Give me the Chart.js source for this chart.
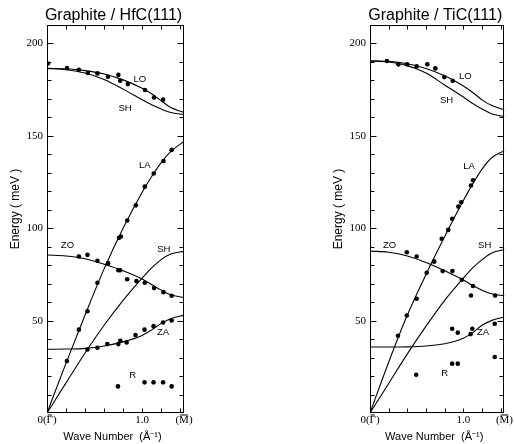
<!DOCTYPE html>
<html>
<head>
<meta charset="utf-8">
<script src="https://cdn.jsdelivr.net/npm/chart.js@4"></script>
<style>
html, body { margin: 0; padding: 0; background: #fff; }
#wrap { position: relative; width: 514px; height: 444px; }
.panel { position: absolute; top: 0; width: 257px; height: 444px; }
</style>
</head>
<body>
<div id="wrap">
  <div class="panel" style="left:0"><canvas id="hfcChart"></canvas></div>
  <div class="panel" style="left:257px"><canvas id="ticChart"></canvas></div>
</div>
<script>
// wave number grid for the calculated curves (1/A), M point at the end
const curveK = [0, 0.2, 0.4, 0.6, 0.8, 1.0, 1.1, 1.2, 1.3, 1.44];
const xTickValues = [0, 1.0, 1.44];
const xTickLabels = ['0(\u0393)', '1.0', '(M)'];
const yTickValues = [50, 100, 150, 200];

// Graphite / HfC(111) - calculated curves (meV)
const hfcLO   = [186.5, 186.3, 185.3, 183.5, 180.3, 175.8, 172.8, 169, 165.3, 162.7];
const hfcSH1  = [186.5, 185.8, 184, 180.5, 175.3, 169.5, 166.8, 164.5, 162.6, 161.5];
const hfcLA   = [0, 27, 53, 78, 100, 119.5, 128, 135.5, 141.5, 147];
const hfcSH2  = [0, 16.3, 32.5, 47.5, 61, 73, 78.5, 83, 86, 87.5];
const hfcZO   = [85.5, 85, 83.5, 80.5, 77, 72.5, 69.5, 66.5, 64, 62.5];
const hfcZA   = [34.5, 34.6, 35, 36.3, 38.5, 42, 45, 48.5, 51, 53];

// Graphite / HfC(111) - measured points
const hfcLOk = [0.01, 0.21, 0.335, 0.43, 0.53, 0.64, 0.75, 0.77, 0.85, 1.03, 1.125, 1.22];
const hfcLOe = [189.2, 186.7, 185.8, 184, 183.8, 182, 183, 179.8, 178, 174.8, 170.8, 169.6];
const hfcLAk = [0.209, 0.335, 0.425, 0.53, 0.641, 0.757, 0.777, 0.843, 0.934, 1.028, 1.122, 1.224, 1.31];
const hfcLAe = [28.1, 45.1, 55.1, 70.5, 81.1, 94.8, 95.5, 104.2, 112.4, 122.5, 129.6, 136.4, 142.4];
const hfcZOk = [0.335, 0.425, 0.53, 0.641, 0.75, 0.77, 0.843, 0.94, 1.028, 1.126, 1.224, 1.31];
const hfcZOe = [84.7, 85.6, 82.4, 80.8, 77.3, 77.3, 72.4, 71.4, 70.5, 67.6, 65.4, 63.5];
const hfcZAk = [0.425, 0.53, 0.634, 0.75, 0.77, 0.837, 0.93, 1.025, 1.12, 1.22, 1.31];
const hfcZAe = [34.4, 35.3, 37.3, 37.3, 39.1, 38.2, 42.2, 45.1, 47.0, 49.0, 50.1];
const hfcRk  = [0.746, 1.025, 1.12, 1.22, 1.31];
const hfcRe  = [14.4, 16.6, 16.6, 16.6, 14.4];

// Graphite / TiC(111) - calculated curves (meV)
const ticLO   = [190.6, 190.3, 189, 186.5, 182.5, 177, 173.5, 169.5, 166.5, 164];
const ticSH1  = [190.6, 190, 188, 184, 177.5, 171, 167.5, 164.5, 162, 160.5];
const ticLA   = [0, 27.5, 53, 75, 95.5, 115, 124, 132, 138, 142];
const ticSH2  = [0, 16, 32, 47, 61, 73, 78.5, 83, 86.5, 88.5];
const ticZO   = [87.6, 87, 85, 81.5, 77, 72, 69, 66.5, 64.5, 63.5];
const ticZA   = [35.7, 35.7, 35.8, 36.3, 37.5, 40.5, 43.5, 47.5, 50, 52];

// Graphite / TiC(111) - measured points
const ticLOk = [0.181, 0.304, 0.398, 0.5, 0.614, 0.70, 0.796, 0.886];
const ticLOe = [190.5, 188.7, 188.7, 187.6, 188.7, 186.5, 181.8, 179.8];
const ticLAk = [0.3, 0.394, 0.5, 0.607, 0.687, 0.768, 0.838, 0.88, 0.946, 0.977, 1.082, 1.103];
const ticLAe = [41.8, 52.8, 61.8, 75.9, 82, 94.3, 99.1, 105.1, 111.7, 114.1, 123.1, 126];
const ticZOk = [0.394, 0.5, 0.687, 0.778, 0.883, 0.984, 1.103, 1.082, 1.34];
const ticZOe = [87, 84.7, 82, 76.8, 76.8, 72.1, 68.7, 63.6, 63.6];
const ticZAk = [0.88, 0.94, 1.078, 1.096, 1.336];
const ticZAe = [45.6, 43.5, 42.7, 45.6, 48.3];
const ticRk  = [0.495, 0.88, 0.94, 1.336];
const ticRe  = [20.7, 26.7, 26.7, 30.3];

// branch labels: text, wave number, energy
const hfcLabels = [['LO', 0.976, 180.8], ['SH', 0.82, 165], ['LA', 1.028, 133.9], ['ZO', 0.215, 90.6],
                   ['SH', 1.227, 88.5], ['ZA', 1.22, 43.5], ['R', 0.9, 20.4]];
const ticLabels = [['LO', 1.02, 182.2], ['SH', 0.82, 169.4], ['LA', 1.06, 133.4], ['ZO', 0.21, 90.6],
                   ['SH', 1.228, 90.6], ['ZA', 1.21, 43.5], ['R', 0.8, 21.6]];

const INK = '#000';
const SERIF = '"Liberation Serif", "Times New Roman", serif';
const SANS = '"Liberation Sans", Arial, sans-serif';

function curve(vals) {
    return {
        type: 'line',
        data: curveK.map((k, i) => ({ x: k, y: vals[i] })),
        borderColor: INK,
        borderWidth: 1.1,
        pointRadius: 0,
        cubicInterpolationMode: 'monotone',
        fill: false
    };
}

function dots(ks, es) {
    return {
        type: 'scatter',
        data: ks.map((k, i) => ({ x: k, y: es[i] })),
        backgroundColor: INK,
        borderWidth: 0,
        pointRadius: 2.3
    };
}

// frame, inward ticks, titles, overbars and branch labels
const decorPlugin = {
    id: 'decor',
    afterDraw(chart, args, opts) {
        const { ctx, chartArea: a, scales: { x, y } } = chart;
        const L = Math.round(a.left) + 0.5, R = Math.round(a.right) - 0.5;
        const T = Math.round(a.top) + 0.5, B = Math.round(a.bottom) - 0.5;
        ctx.save();
        ctx.strokeStyle = INK;
        ctx.lineWidth = 1;
        ctx.strokeRect(L, T, R - L, B - T);
        ctx.beginPath();
        for (let k = 0.2; k < 1.43; k += 0.2) {
            const px = Math.round(x.getPixelForValue(k)) + 0.5;
            ctx.moveTo(px, B); ctx.lineTo(px, B - 4);
            ctx.moveTo(px, T); ctx.lineTo(px, T + 4);
        }
        for (let e = 10; e <= 200; e += 10) {
            const py = Math.round(y.getPixelForValue(e)) + 0.5;
            const len = e % 50 === 0 ? 6 : 4;
            ctx.moveTo(L, py); ctx.lineTo(L + len, py);
            ctx.moveTo(R, py); ctx.lineTo(R - len, py);
        }
        ctx.stroke();

        // bars over Gamma and M in the x tick labels
        ctx.font = '11px ' + SERIF;
        const barY = B + 2.5;
        ctx.beginPath();
        [[0, '0(', '\u0393'], [2, '(', 'M']].forEach(([i, pre, ch]) => {
            const cx = x.getPixelForValue(xTickValues[i]);
            const left = cx - ctx.measureText(xTickLabels[i]).width / 2 + ctx.measureText(pre).width;
            const w = ctx.measureText(ch).width;
            ctx.moveTo(left + 1, barY); ctx.lineTo(left + w - 1, barY);
        });
        ctx.stroke();

        ctx.fillStyle = INK;
        ctx.textAlign = 'center';
        ctx.textBaseline = 'alphabetic';
        ctx.font = '16px ' + SANS;
        ctx.fillText(opts.title, (a.left + a.right) / 2 - 2, 20);

        ctx.font = '11px ' + SANS;
        ctx.fillText('Wave Number  (\u00C5\u207B\u00B9)', (a.left + a.right) / 2 - 3, 440);

        ctx.save();
        ctx.translate(a.left - 31.5, (a.top + a.bottom) / 2 - 10);
        ctx.rotate(-Math.PI / 2);
        ctx.textBaseline = 'middle';
        ctx.font = '12px ' + SANS;
        ctx.fillText('Energy ( meV )', 0, 0);
        ctx.restore();

        ctx.textBaseline = 'middle';
        ctx.font = '9.5px ' + SANS;
        opts.labels.forEach(([txt, k, e]) => {
            ctx.fillText(txt, x.getPixelForValue(k), y.getPixelForValue(e));
        });
        ctx.restore();
    }
};

function makePanel(id, title, curves, points, labels, padLeft, padRight) {
    new Chart(document.getElementById(id).getContext('2d'), {
        data: {
            datasets: curves.map(curve).concat(points.map(p => dots(p[0], p[1])))
        },
        options: {
            responsive: true,
            maintainAspectRatio: false,
            animation: false,
            layout: { padding: { top: 25, bottom: 0, left: padLeft, right: padRight } },
            plugins: {
                legend: { display: false },
                tooltip: { enabled: false },
                decor: { title: title, labels: labels }
            },
            scales: {
                x: {
                    type: 'linear',
                    min: 0, max: 1.44,
                    grid: { display: false, drawTicks: false },
                    border: { display: false },
                    afterBuildTicks: s => { s.ticks = xTickValues.map(v => ({ value: v })); },
                    afterFit: s => { s.height = 31; },
                    ticks: {
                        padding: 1,
                        maxRotation: 0,
                        autoSkip: false,
                        color: INK,
                        font: { family: SERIF, size: 11 },
                        callback: (v) => xTickLabels[xTickValues.indexOf(v)]
                    }
                },
                y: {
                    type: 'linear',
                    min: 0, max: 210,
                    grid: { display: false, drawTicks: false },
                    border: { display: false },
                    afterBuildTicks: s => { s.ticks = yTickValues.map(v => ({ value: v })); },
                    afterFit: s => { s.width = 47; },
                    ticks: {
                        padding: 4,
                        autoSkip: false,
                        color: INK,
                        font: { family: SERIF, size: 11 }
                    }
                }
            }
        },
        plugins: [decorPlugin]
    });
}

document.addEventListener('DOMContentLoaded', function() {
    makePanel('hfcChart', 'Graphite / HfC(111)',
        [hfcLO, hfcSH1, hfcLA, hfcSH2, hfcZO, hfcZA],
        [[hfcLOk, hfcLOe], [hfcLAk, hfcLAe], [hfcZOk, hfcZOe], [hfcZAk, hfcZAe], [hfcRk, hfcRe]],
        hfcLabels, 0, 73);
    makePanel('ticChart', 'Graphite / TiC(111)',
        [ticLO, ticSH1, ticLA, ticSH2, ticZO, ticZA],
        [[ticLOk, ticLOe], [ticLAk, ticLAe], [ticZOk, ticZOe], [ticZAk, ticZAe], [ticRk, ticRe]],
        ticLabels, 66, 7);
});
</script>
</body>
</html>
